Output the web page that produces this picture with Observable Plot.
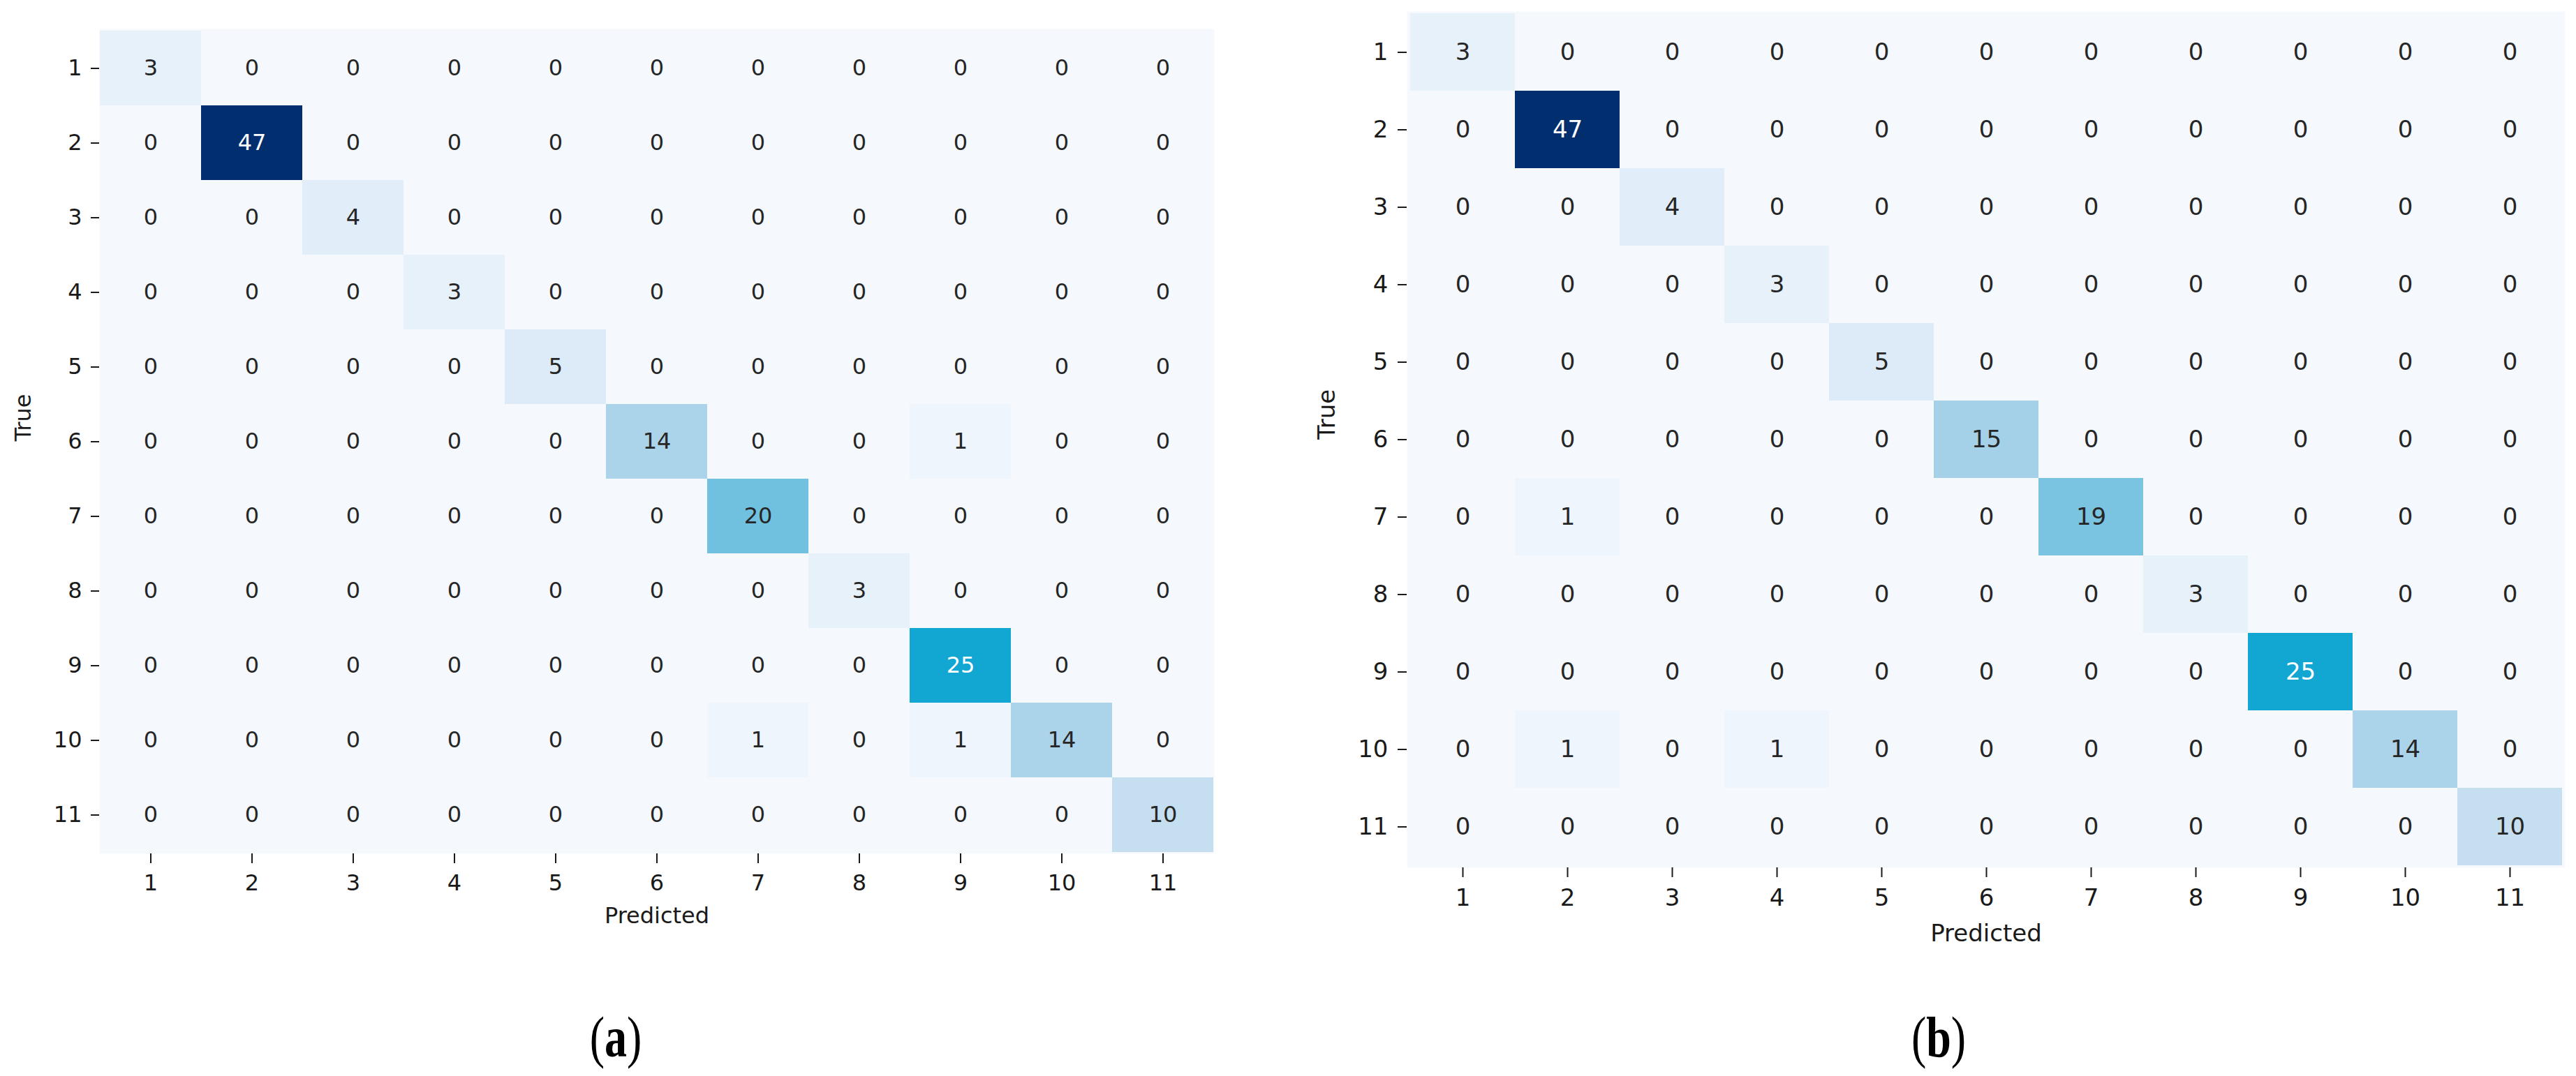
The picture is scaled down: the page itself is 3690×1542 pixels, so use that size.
<!DOCTYPE html>
<html>
<head>
<meta charset="utf-8">
<script src="https://cdn.jsdelivr.net/npm/d3@7"></script>
<script src="https://cdn.jsdelivr.net/npm/@observablehq/plot@0.6"></script>
<style>
  html, body { margin: 0; padding: 0; background: #ffffff; }
  #fig { position: relative; width: 3690px; height: 1542px; background: #ffffff; overflow: hidden; }
  .panel { position: absolute; top: 0; }
  .cap { position: absolute; font-family: "Liberation Serif", serif; font-size: 82px; color: #000; white-space: nowrap; line-height: 1; }
  .cap b { font-weight: bold; }
</style>
</head>
<body>
<div id="fig">
  <div id="pa" class="panel" style="left:0px"></div>
  <div id="pb" class="panel" style="left:1850px"></div>
  <div class="cap" style="left:882px; top:1487px; transform: translate(-50%,-50%) scaleX(0.78);">(<b>a</b>)</div>
  <div class="cap" style="left:2777px; top:1487px; transform: translate(-50%,-50%) scaleX(0.78);">(<b>b</b>)</div>
</div>
<script>
// ---- data ----
const classLabels = ["1","2","3","4","5","6","7","8","9","10","11"];
const xTitle = "Predicted";
const yTitle = "True";

const matrixA = [
  [3, 0, 0, 0, 0, 0, 0, 0, 0, 0, 0],
  [0,47, 0, 0, 0, 0, 0, 0, 0, 0, 0],
  [0, 0, 4, 0, 0, 0, 0, 0, 0, 0, 0],
  [0, 0, 0, 3, 0, 0, 0, 0, 0, 0, 0],
  [0, 0, 0, 0, 5, 0, 0, 0, 0, 0, 0],
  [0, 0, 0, 0, 0,14, 0, 0, 1, 0, 0],
  [0, 0, 0, 0, 0, 0,20, 0, 0, 0, 0],
  [0, 0, 0, 0, 0, 0, 0, 3, 0, 0, 0],
  [0, 0, 0, 0, 0, 0, 0, 0,25, 0, 0],
  [0, 0, 0, 0, 0, 0, 1, 0, 1,14, 0],
  [0, 0, 0, 0, 0, 0, 0, 0, 0, 0,10]
];

const matrixB = [
  [3, 0, 0, 0, 0, 0, 0, 0, 0, 0, 0],
  [0,47, 0, 0, 0, 0, 0, 0, 0, 0, 0],
  [0, 0, 4, 0, 0, 0, 0, 0, 0, 0, 0],
  [0, 0, 0, 3, 0, 0, 0, 0, 0, 0, 0],
  [0, 0, 0, 0, 5, 0, 0, 0, 0, 0, 0],
  [0, 0, 0, 0, 0,15, 0, 0, 0, 0, 0],
  [0, 1, 0, 0, 0, 0,19, 0, 0, 0, 0],
  [0, 0, 0, 0, 0, 0, 0, 3, 0, 0, 0],
  [0, 0, 0, 0, 0, 0, 0, 0,25, 0, 0],
  [0, 1, 0, 1, 0, 0, 0, 0, 0,14, 0],
  [0, 0, 0, 0, 0, 0, 0, 0, 0, 0,10]
];

// ---- build tidy tables ----
function tidy(matrix) {
  return matrix.flatMap((row, i) => row.map((v, j) => ({t: classLabels[i], p: classLabels[j], value: v})));
}

const colorDomain = [0, 1, 3, 5, 10, 15, 20, 25, 47];
const colorRange  = ["#f5f9fe", "#eef5fc", "#e6f1fa", "#dcebf7", "#c5dff0", "#a4d0e8", "#70c0df", "#12a6d3", "#012e6e"];

function heatmap(matrix, o) {
  const data = tidy(matrix);
  return Plot.plot({
    width: o.width,
    height: o.height,
    marginLeft: o.ml,
    marginRight: o.mr,
    marginTop: o.mt,
    marginBottom: o.mb,
    style: {fontFamily: "'DejaVu Sans', sans-serif", fontSize: o.fs + "px", color: "#1a1a1a", background: "#ffffff"},
    x: {type: "band", domain: classLabels, padding: 0, label: null},
    y: {type: "band", domain: classLabels, padding: 0, label: null},
    color: {type: "linear", domain: colorDomain, range: colorRange, interpolate: "rgb"},
    marks: [
      Plot.frame({fill: colorRange[0], stroke: "none"}),
      Plot.cell(data, {x: "p", y: "t", fill: "value", inset: 0}),
      Plot.text(data, {x: "p", y: "t", text: d => String(d.value),
        fill: d => d.value > 22 ? "#ffffff" : "#262626", fontSize: o.fs}),
      Plot.axisX({anchor: "bottom", tickSize: o.txs, tickPadding: o.txp, strokeWidth: 2, fontSize: o.fs, label: null}),
      Plot.axisY({anchor: "left", tickSize: o.tys, tickPadding: o.typ, strokeWidth: 2, fontSize: o.fs, label: null}),
      Plot.text([xTitle], {frameAnchor: "bottom", dy: o.xdy, fontSize: o.fs, fill: "#1a1a1a"}),
      Plot.text([yTitle], {frameAnchor: "left", dx: o.ydx, rotate: -90, fontSize: o.fs, fill: "#1a1a1a"})
    ]
  });
}

document.getElementById("pa").append(heatmap(matrixA, {
  width: 1760, height: 1400, ml: 142, mr: 21, mt: 41, mb: 177,
  fs: 32, txs: 14, txp: 16, tys: 12, typ: 13, xdy: 99, ydx: -109
}));
document.getElementById("pb").append(heatmap(matrixB, {
  width: 1840, height: 1400, ml: 165, mr: 16, mt: 16, mb: 157,
  fs: 34, txs: 14, txp: 16, tys: 13, typ: 14, xdy: 105, ydx: -114
}));
</script>
</body>
</html>
